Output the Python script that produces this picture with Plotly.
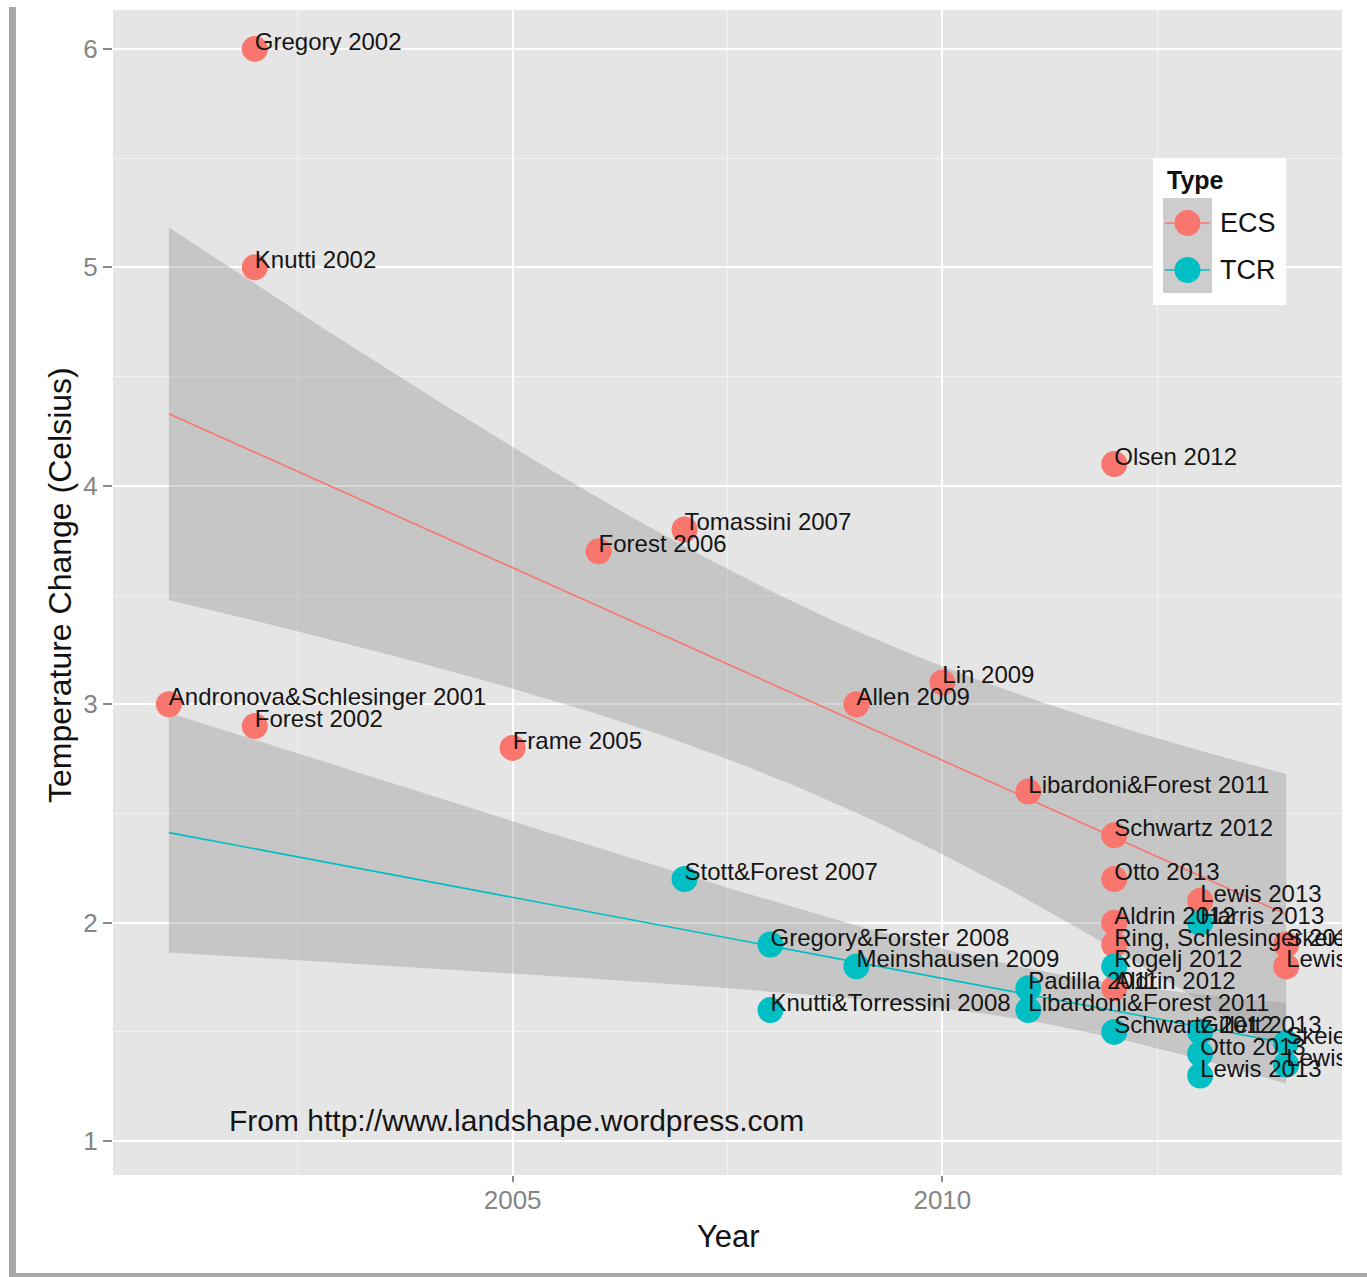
import numpy as np
import plotly.graph_objects as go

# ---- data -------------------------------------------------------------
ecs_labels = [
    "Andronova&Schlesinger 2001", "Gregory 2002", "Knutti 2002", "Forest 2002",
    "Frame 2005", "Forest 2006", "Tomassini 2007", "Allen 2009", "Lin 2009",
    "Libardoni&Forest 2011", "Olsen 2012", "Schwartz 2012", "Otto 2013",
    "Lewis 2013", "Aldrin 2012", "Ring, Schlesinger 2012", "Aldrin 2012",
    "Skeie 2014", "Lewis 2014",
]
ecs_year = [2001, 2002, 2002, 2002, 2005, 2006, 2007, 2009, 2010,
            2011, 2012, 2012, 2012, 2013, 2012, 2012, 2012, 2014, 2014]
ecs_value = [3.0, 6.0, 5.0, 2.9, 2.8, 3.7, 3.8, 3.0, 3.1,
             2.6, 4.1, 2.4, 2.2, 2.1, 2.0, 1.9, 1.7, 1.9, 1.8]

tcr_labels = [
    "Stott&Forest 2007", "Gregory&Forster 2008", "Knutti&Torressini 2008",
    "Meinshausen 2009", "Padilla 2011", "Libardoni&Forest 2011",
    "Schwartz 2012", "Rogelj 2012", "Harris 2013", "Gillett 2013",
    "Otto 2013", "Lewis 2013", "Skeie 2014", "Lewis 2014",
]
tcr_year = [2007, 2008, 2008, 2009, 2011, 2011, 2012, 2012,
            2013, 2013, 2013, 2013, 2014, 2014]
tcr_value = [2.2, 1.9, 1.6, 1.8, 1.7, 1.6, 1.5, 1.8,
             2.0, 1.5, 1.4, 1.3, 1.45, 1.35]

type_names = ["ECS", "TCR"]
type_colors = ["#F8766D", "#00BFC4"]

x_ticks = [2005, 2010]
y_ticks = [1, 2, 3, 4, 5, 6]

# ---- layout geometry ---------------------------------------------------
W, H = 1367, 1277
M_L, M_R, M_T, M_B = 113, 25, 10, 102
X_RANGE = [2000.35, 2014.65]
Y_RANGE = [0.845, 6.178]
FONT = "Liberation Sans, Arial, Helvetica, sans-serif"

plot_w = W - M_L - M_R
plot_h = H - M_T - M_B
px_per_unit_y = plot_h / (Y_RANGE[1] - Y_RANGE[0])


def paper_x(px):
    return (px - M_L) / plot_w


def paper_y(py):
    return (H - M_B - py) / plot_h


# two-sided 95% Student t quantiles by degrees of freedom
T975 = {12: 2.178812830, 17: 2.109815578}


def lm_band(xs, ys, x_lo, x_hi, n=80):
    """Ordinary least squares line with a 95% confidence band."""
    x = np.asarray(xs, float)
    y = np.asarray(ys, float)
    k = len(x)
    xm, ym = x.mean(), y.mean()
    sxx = ((x - xm) ** 2).sum()
    slope = ((x - xm) * (y - ym)).sum() / sxx
    icpt = ym - slope * xm
    resid = y - (icpt + slope * x)
    s = np.sqrt((resid ** 2).sum() / (k - 2))
    grid = np.linspace(x_lo, x_hi, n)
    fit = icpt + slope * grid
    half = T975[k - 2] * s * np.sqrt(1.0 / k + (grid - xm) ** 2 / sxx)
    return grid, fit, fit - half, fit + half


all_years = ecs_year + tcr_year
x_lo, x_hi = min(all_years), max(all_years)

series = [
    (ecs_year, ecs_value, ecs_labels),
    (tcr_year, tcr_value, tcr_labels),
]

fig = go.Figure()

fits = [lm_band(yr, val, x_lo, x_hi) for yr, val, _ in series]

# confidence bands
for grid, fit, lo, hi in fits:
    fig.add_trace(go.Scatter(
        x=np.concatenate([grid, grid[::-1]]),
        y=np.concatenate([hi, lo[::-1]]),
        fill="toself", fillcolor="rgba(153,153,153,0.4)",
        line=dict(width=0), mode="lines", hoverinfo="skip", showlegend=False,
    ))

# fitted lines
for (grid, fit, lo, hi), col in zip(fits, type_colors):
    fig.add_trace(go.Scatter(
        x=grid, y=fit, mode="lines", line=dict(color=col, width=1.6),
        hoverinfo="skip", showlegend=False,
    ))

# study points
for (yr, val, lab), name, col in zip(series, type_names, type_colors):
    fig.add_trace(go.Scatter(
        x=yr, y=val, mode="markers", name=name, text=lab,
        marker=dict(color=col, size=26, line=dict(width=0)),
        showlegend=False,
    ))

# study names, left-aligned at each point and sitting on its baseline
LABEL_RAISE_PX = 5
for yr, val, lab in series:
    fig.add_trace(go.Scatter(
        x=yr, y=np.asarray(val) + LABEL_RAISE_PX / px_per_unit_y,
        mode="text", text=lab, textposition="middle right",
        textfont=dict(family=FONT, size=24, color="#151515"),
        hoverinfo="skip", showlegend=False, cliponaxis=True,
    ))

annotations = [
    dict(text="From http://www.landshape.wordpress.com", x=2001.68, y=1.096,
         xref="x", yref="y", xanchor="left", yanchor="middle", showarrow=False,
         font=dict(family=FONT, size=30, color="#151515")),
    dict(text="Year", x=paper_x(728), y=paper_y(1236), xref="paper", yref="paper",
         xanchor="center", yanchor="middle", showarrow=False,
         font=dict(family=FONT, size=31, color="#111111")),
    dict(text="Temperature Change (Celsius)", x=paper_x(60), y=paper_y(585),
         xref="paper", yref="paper", xanchor="center", yanchor="middle",
         textangle=-90, showarrow=False,
         font=dict(family=FONT, size=32, color="#111111")),
]

shapes = [
    # frame lines at the left and bottom edges of the image
    dict(type="rect", xref="paper", yref="paper", layer="above",
         x0=paper_x(9), x1=paper_x(16), y0=paper_y(1277), y1=paper_y(7),
         fillcolor="#A8A8A8", line=dict(width=0)),
    dict(type="rect", xref="paper", yref="paper", layer="above",
         x0=paper_x(9), x1=paper_x(W), y0=paper_y(1277), y1=paper_y(1273),
         fillcolor="#A8A8A8", line=dict(width=0)),
]

# legend box
LEG_L, LEG_R, LEG_T, LEG_B = 1153, 1286, 158, 305
KEY_L, KEY_R, KEY_T, KEY_B = 1163, 1212, 198, 293
key_rows = [223, 270]
shapes.append(dict(type="rect", xref="paper", yref="paper", layer="above",
                   x0=paper_x(LEG_L), x1=paper_x(LEG_R),
                   y0=paper_y(LEG_B), y1=paper_y(LEG_T),
                   fillcolor="white", line=dict(width=0)))
shapes.append(dict(type="rect", xref="paper", yref="paper", layer="above",
                   x0=paper_x(KEY_L), x1=paper_x(KEY_R),
                   y0=paper_y(KEY_B), y1=paper_y(KEY_T),
                   fillcolor="#CDCDCD", line=dict(width=0)))
annotations.append(dict(text="<b>Type</b>", x=paper_x(1165), y=paper_y(180),
                        xref="paper", yref="paper", xanchor="left", yanchor="middle",
                        showarrow=False, font=dict(family=FONT, size=25, color="#111111")))
for name, col, ry in zip(type_names, type_colors, key_rows):
    shapes.append(dict(type="line", xref="paper", yref="paper", layer="above",
                       x0=paper_x(KEY_L + 2), x1=paper_x(KEY_R - 2),
                       y0=paper_y(ry), y1=paper_y(ry),
                       line=dict(color=col, width=1.6)))
    shapes.append(dict(type="circle", xref="paper", yref="paper", layer="above",
                       xsizemode="pixel", ysizemode="pixel",
                       xanchor=paper_x((KEY_L + KEY_R) / 2), yanchor=paper_y(ry),
                       x0=-13, x1=13, y0=-13, y1=13,
                       fillcolor=col, line=dict(width=0)))
    annotations.append(dict(text=name, x=paper_x(1218), y=paper_y(ry),
                            xref="paper", yref="paper", xanchor="left", yanchor="middle",
                            showarrow=False, font=dict(family=FONT, size=27, color="#111111")))

axis_common = dict(
    ticks="outside", tickwidth=1.5, tickcolor="#8A8A8A",
    tickfont=dict(family=FONT, size=26, color="#858585"),
    showgrid=True, gridcolor="white", gridwidth=2,
    zeroline=False, showline=False,
)

fig.update_layout(
    width=W, height=H,
    margin=dict(l=M_L, r=M_R, t=M_T, b=M_B, pad=0),
    paper_bgcolor="white", plot_bgcolor="#E5E5E5",
    showlegend=False,
    font=dict(family=FONT),
    xaxis=dict(range=X_RANGE, tickmode="array", tickvals=x_ticks,
               ticklen=6, ticklabelstandoff=-4,
               minor=dict(dtick=2.5, tick0=0, showgrid=True,
                          gridcolor="#F2F2F2", gridwidth=1, ticks=""),
               **axis_common),
    yaxis=dict(range=Y_RANGE, tickmode="array", tickvals=y_ticks,
               ticklen=9,
               minor=dict(dtick=0.5, tick0=0, showgrid=True,
                          gridcolor="#F2F2F2", gridwidth=1, ticks=""),
               **axis_common),
    annotations=annotations,
    shapes=shapes,
)

fig.write_html("out.html")
